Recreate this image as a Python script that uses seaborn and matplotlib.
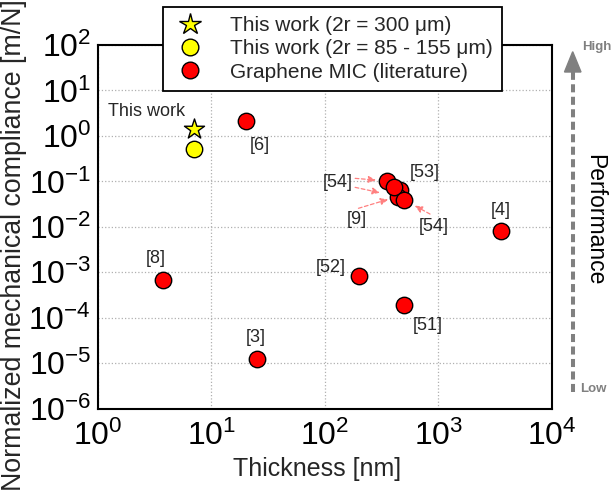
import numpy as np
import pandas as pd
import matplotlib
matplotlib.use("Agg")
import matplotlib.pyplot as plt
import seaborn as sns
from matplotlib.lines import Line2D
from matplotlib.patches import Polygon

# ---------------- data ----------------
lit_ref = ['[6]', '[8]', '[3]', '[52]', '[51]', '[4]', '[53]', '[9]', '[54]', '[54]', '[54]']
lit_thickness = [20.1, 3.72, 25.1, 200, 496, 3580, 456, 438, 354, 410, 502]
lit_compliance = [2.13, 6.8e-4, 1.22e-5, 8.4e-4, 1.91e-4, 8.1e-3, 0.0662, 0.0465, 0.102, 0.0764, 0.0389]

star_thickness = [7.07]
star_compliance = [1.40]
circ_thickness = [7.07]
circ_compliance = [0.51]

legend_labels = ['This work (2r = 300 \u03bcm)', 'This work (2r = 85 - 155 \u03bcm)', 'Graphene MIC (literature)']
x_ticks = [1e0, 1e1, 1e2, 1e3, 1e4]
y_ticks = [1e-6, 1e-5, 1e-4, 1e-3, 1e-2, 1e-1, 1e0, 1e1, 1e2]

# label placements (index into literature, text offset in points)
label_offsets = {0: (10, -17.3), 1: (-5, 15.5), 2: (-0.5, 15.9), 3: (-20.2, 6.3),
                 4: (17.6, -15.1), 5: (0, 14.8), 6: (18.1, 12.2), 7: (-29.4, -16.9),
                 8: (-35.5, -0.9), 10: (20.9, -19.2)}
# arrows: (target index, start offset in points, shrinkB)
arrows = [(8, (-23, 1.9), 8), (7, (-30.6, 6.6), 13), (7, (-28.2, -8.5), 7), (10, (18.5, -10.1), 8.5)]

# ---------------- style ----------------
sns.set_style("white")
plt.rcParams['font.family'] = ['Liberation Sans', 'DejaVu Sans']
plt.rcParams['mathtext.fontset'] = 'custom'
plt.rcParams['mathtext.rm'] = 'Liberation Sans'
plt.rcParams['mathtext.it'] = 'Liberation Sans:italic'
plt.rcParams['mathtext.bf'] = 'Liberation Sans:bold'

W, H = 614, 495
fig = plt.figure(figsize=(W / 100, H / 100), dpi=100)
ax = fig.add_axes([98 / W, 1 - 408.7 / H, 453.7 / W, 363.7 / H])

lit_df = pd.DataFrame({'t': lit_thickness, 'c': lit_compliance, 'ref': lit_ref})
sns.scatterplot(data=lit_df, x='t', y='c', ax=ax, s=140, color='#ff0000',
                edgecolor='black', linewidth=1.0, zorder=3, legend=False)
sns.scatterplot(x=circ_thickness, y=circ_compliance, ax=ax, s=140, color='#ffff00',
                edgecolor='black', linewidth=1.0, zorder=3, legend=False)
sns.scatterplot(x=star_thickness, y=star_compliance, ax=ax, s=230, marker='*',
                color='#ffff00', edgecolor='black', linewidth=1.0, zorder=4, legend=False)

ax.set_xscale('log')
ax.set_yscale('log')
ax.set_xlim(x_ticks[0], x_ticks[-1])
ax.set_ylim(y_ticks[0], y_ticks[-1])
ax.set_xticks(x_ticks)
ax.set_yticks(y_ticks)
ax.set_xticklabels([r'$10^{%d}$' % int(round(np.log10(v))) for v in x_ticks])
ax.set_yticklabels([r'$10^{%d}$' % int(round(np.log10(v))) for v in y_ticks])
ax.minorticks_off()
ax.tick_params(axis='both', which='major', direction='in', length=4, width=1.2,
               labelsize=23, colors='black')
ax.tick_params(axis='x', pad=8.5)
ax.tick_params(axis='y', pad=5)
ax.grid(True, which='major', linestyle=':', color='#b0b0b0', linewidth=0.9)
for sp in ax.spines.values():
    sp.set_color('black')
    sp.set_linewidth(1.5)

ax.set_xlabel('Thickness [nm]', fontsize=18)
ax.set_ylabel('Normalized mechanical compliance [m/N]', fontsize=19.3)
ax.xaxis.label.set_va('center')
ax.yaxis.label.set_va('center')
ax.xaxis.set_label_coords(0.483, -0.166)
ax.yaxis.set_label_coords(-0.186, 0.45)

# labels
for i, (dx, dy) in label_offsets.items():
    ax.annotate(lit_ref[i], xy=(lit_thickness[i], lit_compliance[i]), xytext=(dx, dy),
                textcoords='offset points', ha='center', va='center', fontsize=13)
ax.annotate('This work', xy=(star_thickness[0], star_compliance[0]), xytext=(-34.4, 12.8),
            textcoords='offset points', ha='center', va='center', fontsize=13)
for i, (sx, sy), shr in arrows:
    ax.annotate('', xy=(lit_thickness[i], lit_compliance[i]), xytext=(sx, sy),
                textcoords='offset points',
                arrowprops=dict(arrowstyle='-|>,head_length=0.45,head_width=0.2',
                                linestyle=(0, (3, 2)), color='#ff8080', lw=0.9,
                                shrinkA=0, shrinkB=shr))

# legend
handles = [Line2D([], [], marker='*', linestyle='none', markersize=16, markerfacecolor='#ffff00',
                  markeredgecolor='black', markeredgewidth=1.0),
           Line2D([], [], marker='o', linestyle='none', markersize=12, markerfacecolor='#ffff00',
                  markeredgecolor='black', markeredgewidth=1.0),
           Line2D([], [], marker='o', linestyle='none', markersize=12, markerfacecolor='#ff0000',
                  markeredgecolor='black', markeredgewidth=1.0)]
leg = ax.legend(handles, legend_labels, loc='upper center', bbox_to_anchor=(0.517, 1.105),
                fontsize=15, frameon=True, fancybox=False, framealpha=1, edgecolor='black',
                borderpad=0.45, labelspacing=0.2, handlelength=1.7, handletextpad=1.1,
                borderaxespad=0)
leg.get_frame().set_linewidth(1.3)

# performance arrow
def fx(px):
    return px / W

def fy(py):
    return 1 - py / H

fig.add_artist(Line2D([fx(572.7), fx(572.7)], [fy(392), fy(70)], transform=fig.transFigure,
                      color='#808080', lw=2.9, linestyle=(0, (2, 1.1))))
fig.add_artist(Polygon([[fx(572.7), fy(51.7)], [fx(564.5), fy(72)], [fx(581), fy(72)]],
                       closed=True, transform=fig.transFigure, color='#808080'))
fig.text(fx(597), fy(47), 'High', ha='center', va='center', fontsize=9.5,
         fontweight='bold', color='#808080')
fig.text(fx(593), fy(389), 'Low', ha='center', va='center', fontsize=9.5,
         fontweight='bold', color='#808080')
fig.text(fx(595), fy(220), 'Performance', ha='center', va='center', fontsize=16.5,
         rotation=-90, color='black')

fig.savefig('out.png', dpi=100)
